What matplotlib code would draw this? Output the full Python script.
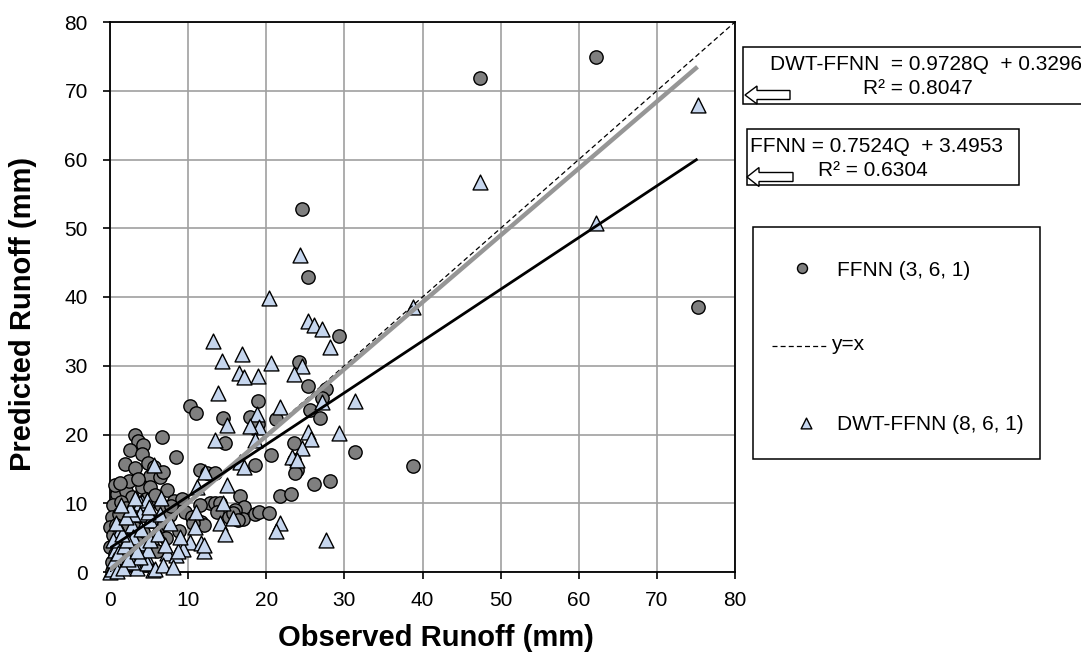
import matplotlib
matplotlib.use('Agg')
import matplotlib.pyplot as plt
from matplotlib.patches import Rectangle, FancyArrow

plt.rcParams['font.family'] = ['Liberation Sans', 'DejaVu Sans']

# FFNN (3, 6, 1) - observed vs predicted runoff (mm)
ffnn_obs = [47.4, 62.2, 75.2, 38.8, 24.6, 25.3, 29.3, 24.2, 25.4, 27.6,
            19.0, 27.1, 25.6, 21.2, 26.9, 31.4, 28.2, 26.1, 21.8, 23.2,
            10.3, 11.0, 14.4, 17.9, 19.0, 14.7, 23.5, 18.6, 20.6, 23.5,
            23.9, 23.7, 16.6, 17.2, 16.2, 17.0, 18.6, 19.1, 20.4, 12.8,
            13.5, 14.1, 13.7, 15.2, 16.0, 11.5, 12.4, 13.5, 9.6, 10.5,
            11.7, 12.0, 7.7, 6.4, 6.2, 3.2, 3.6, 4.2, 6.6, 2.6,
            4.1, 8.5, 1.9, 3.2, 4.9, 5.6, 5.1, 6.4, 4.1, 5.1,
            7.3, 0.9, 2.1, 2.8, 0.4, 0.2, 0.0, 0.4, 0.0, 0.6,
            1.4, 2.0, 3.0, 1.2, 2.6, 3.8, 4.6, 5.8, 6.5, 0.8,
            1.8, 3.2, 4.2, 5.2, 1.0, 2.2, 3.4, 0.6, 1.6, 0.2,
            0.8, 0.3, 2.6, 4.4, 8.2, 9.2, 7.8, 8.8, 5.4, 2.4,
            3.6, 6.8, 1.3, 7.2, 6.0, 15.8, 16.4, 10.6, 11.5]
ffnn_pred = [71.8, 74.9, 38.6, 15.4, 52.8, 42.9, 34.3, 30.5, 27.0, 26.6,
             24.9, 25.3, 23.5, 22.2, 22.4, 17.4, 13.3, 12.8, 11.1, 11.3,
             24.1, 23.2, 22.4, 22.6, 21.6, 18.7, 18.7, 15.6, 17.0, 16.3,
             14.8, 14.4, 11.0, 9.4, 8.0, 7.7, 8.5, 8.8, 8.6, 10.0,
             10.0, 10.0, 8.8, 8.0, 9.0, 14.8, 14.4, 14.4, 8.8, 8.0,
             7.3, 6.8, 8.3, 6.6, 5.6, 19.9, 19.1, 18.5, 19.7, 17.8,
             17.2, 16.8, 15.7, 15.2, 15.9, 15.3, 14.0, 13.8, 12.4, 12.3,
             12.0, 11.4, 11.8, 10.9, 9.7, 8.0, 6.6, 5.4, 3.7, 12.6,
             10.2, 9.3, 9.0, 8.4, 7.6, 8.8, 10.6, 11.2, 9.8, 6.9,
             6.2, 6.4, 5.8, 7.4, 4.6, 3.8, 4.4, 2.6, 2.2, 1.4,
             0.6, 0.2, 1.2, 3.0, 10.4, 10.6, 9.6, 6.0, 4.0, 13.2,
             13.6, 14.6, 13.0, 5.0, 3.0, 8.6, 7.6, 7.2, 9.8]

# DWT-FFNN (8, 6, 1) - observed vs predicted runoff (mm)
dwt_obs = [75.2, 62.2, 47.4, 38.8, 24.3, 20.3, 25.3, 26.1, 27.1, 28.2,
           24.6, 20.6, 23.5, 18.9, 16.5, 17.2, 13.2, 16.9, 14.3, 13.8,
           21.8, 18.8, 27.1, 31.3, 19.1, 17.9, 15.0, 18.6, 13.5, 25.4,
           25.7, 29.3, 24.6, 23.3, 5.6, 16.7, 17.2, 12.2, 11.1, 15.0,
           14.5, 11.0, 4.1, 4.1, 15.8, 21.8, 21.2, 14.1, 14.7, 10.9,
           27.6, 7.7, 10.3, 11.7, 9.4, 12.0, 7.3, 8.5, 3.8, 3.8,
           2.8, 5.1, 6.0, 1.3, 3.0, 4.3, 0.6, 2.6, 4.7, 1.3,
           3.4, 5.5, 0.0, 8.7, 9.0, 6.4, 0.4, 2.8, 4.7, 5.8,
           3.8, 4.9, 5.1, 6.2, 4.9, 3.0, 4.7, 0.2, 0.5, 1.0,
           1.8, 2.2, 1.5, 0.8, 2.0, 2.5, 3.2, 0.9, 1.6, 2.3,
           3.5, 4.0, 5.0, 6.5, 1.4, 6.8, 8.0, 7.0, 12.0, 23.9]
dwt_pred = [67.9, 50.8, 56.8, 38.5, 46.1, 39.8, 36.5, 36.0, 35.4, 32.8,
            29.9, 30.4, 28.8, 28.5, 28.9, 28.3, 33.6, 31.7, 30.7, 26.1,
            24.0, 23.0, 24.8, 24.9, 21.1, 21.2, 21.4, 19.2, 19.2, 20.4,
            19.4, 20.2, 18.0, 16.7, 15.6, 16.0, 15.3, 14.6, 12.4, 12.7,
            10.0, 8.8, 10.2, 8.5, 7.8, 7.1, 5.9, 7.1, 5.6, 6.6,
            4.7, 7.1, 4.4, 4.2, 3.4, 3.0, 2.8, 2.5, 10.0, 8.5,
            6.8, 7.6, 5.9, 6.1, 5.1, 4.2, 3.2, 2.5, 2.0, 1.0,
            0.6, 0.3, 0.0, 3.0, 5.1, 8.5, 4.6, 1.5, 1.3, 0.5,
            2.2, 3.2, 4.7, 5.6, 8.8, 8.5, 10.5, 0.5, 1.8, 2.8,
            3.8, 4.6, 5.5, 7.2, 8.0, 9.2, 10.8, 0.2, 0.6, 1.9,
            3.0, 6.3, 9.5, 10.8, 9.8, 1.0, 0.8, 4.0, 3.9, 16.3]

# trend lines as printed on the chart: (slope, intercept)
ffnn_fit = (0.7524, 3.4953)
dwt_fit = (0.9728, 0.3296)
axis_ticks = [0, 10, 20, 30, 40, 50, 60, 70, 80]

C_CIRCLE = '#7F7F7F'
C_TRI = '#C6D6EE'
C_GRID = '#A0A0A0'

W, H = 1081, 655
fig = plt.figure(figsize=(W / 100, H / 100), dpi=100)
fig.patch.set_facecolor('white')
ax = fig.add_axes([110 / W, 1 - 572 / H, 625 / W, 550 / H])

ax.scatter(ffnn_obs, ffnn_pred, s=92, marker='o', facecolor=C_CIRCLE,
           edgecolor='black', linewidth=1.0, zorder=3, clip_on=False)
ax.scatter(dwt_obs, dwt_pred, s=115, marker='^', facecolor=C_TRI,
           edgecolor='black', linewidth=1.0, zorder=3.5, clip_on=False)

lims = [axis_ticks[0], axis_ticks[-1]]
ax.plot(lims, lims, color='black', lw=0.9, linestyle=(0, (4, 2.5)), zorder=4)

fx = [min(dwt_obs), max(dwt_obs)]
ax.plot(fx, [dwt_fit[0] * v + dwt_fit[1] for v in fx],
        color='#969696', lw=3.2, solid_capstyle='butt', zorder=5)
fx = [min(ffnn_obs), max(ffnn_obs)]
ax.plot(fx, [ffnn_fit[0] * v + ffnn_fit[1] for v in fx],
        color='black', lw=2.0, solid_capstyle='butt', zorder=6)

ax.set_xlim(lims)
ax.set_ylim(lims)
ax.set_xticks(axis_ticks)
ax.set_yticks(axis_ticks)
ax.grid(True, color=C_GRID, lw=1.2, zorder=0)
ax.set_axisbelow(True)
for sp in ax.spines.values():
    sp.set_color('black')
    sp.set_linewidth(1.3)
ax.tick_params(axis='both', direction='out', length=5, width=1.2,
               labelsize=15, color='black')
ax.tick_params(axis='x', pad=9)
ax.tick_params(axis='y', pad=11)

ax.set_xlabel('Observed Runoff (mm)', fontsize=21, fontweight='bold',
              va='center')
ax.xaxis.set_label_coords(0.522, -0.12)
ax.set_ylabel('Predicted Runoff (mm)', fontsize=21, fontweight='bold',
              va='center')
ax.yaxis.set_label_coords(-0.139, 0.47)

# overlay in pixel coordinates for the equation boxes and the legend
ov = fig.add_axes([0, 0, 1, 1], zorder=10)
ov.set_xlim(0, W)
ov.set_ylim(H, 0)
ov.axis('off')

# DWT-FFNN equation box
ov.add_patch(Rectangle((743, 47), 360, 57, facecolor='white',
                       edgecolor='black', lw=1.1, clip_on=False))
ov.text(770, 64, 'DWT-FFNN  = %.4fQ  + %.4f' % dwt_fit, fontsize=15,
        ha='left', va='center')
ov.text(918, 88, 'R² = 0.8047', fontsize=15, ha='center', va='center')
ov.add_patch(FancyArrow(790, 95, -45, 0, width=9, head_width=18,
                        head_length=12, length_includes_head=True,
                        facecolor='white', edgecolor='black', lw=1.0))

# FFNN equation box
ov.add_patch(Rectangle((747, 129), 272, 56, facecolor='white',
                       edgecolor='black', lw=1.1))
ov.text(750, 147, 'FFNN = %.4fQ  + %.4f' % ffnn_fit, fontsize=15,
        ha='left', va='center')
ov.text(873, 171, 'R² = 0.6304', fontsize=15, ha='center', va='center')
ov.add_patch(FancyArrow(793, 177, -46, 0, width=9, head_width=19,
                        head_length=12, length_includes_head=True,
                        facecolor='white', edgecolor='black', lw=1.0))

# legend
ov.add_patch(Rectangle((753, 227), 287, 232, facecolor='white',
                       edgecolor='black', lw=1.1))
ov.scatter([802], [268], s=52, marker='o', facecolor=C_CIRCLE,
           edgecolor='black', linewidth=1.0)
ov.text(837, 270, 'FFNN (3, 6, 1)', fontsize=15, ha='left', va='center')
ov.plot([772, 828], [346, 346], color='black', lw=0.9,
        linestyle=(0, (4, 2.5)))
ov.text(831, 344, 'y=x', fontsize=15, ha='left', va='center')
ov.scatter([806], [423], s=60, marker='^', facecolor=C_TRI,
           edgecolor='black', linewidth=1.0)
ov.text(837, 424, 'DWT-FFNN (8, 6, 1)', fontsize=15, ha='left', va='center')

fig.savefig('out.png', dpi=100, facecolor='white')
